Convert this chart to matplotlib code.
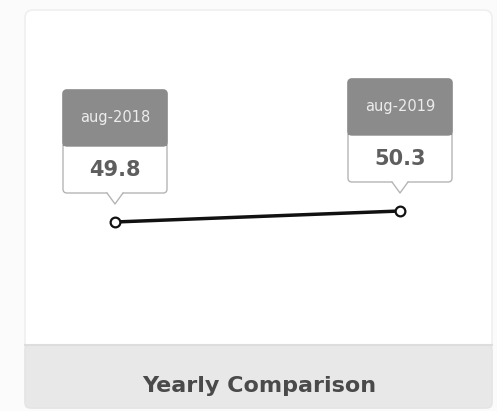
import matplotlib.pyplot as plt
import matplotlib.patches as mpatches
import matplotlib.transforms as mtransforms
from matplotlib.lines import Line2D

# data
periods = ['aug-2018', 'aug-2019']
values = [49.8, 50.3]
footer_title = 'Yearly Comparison'

W, H = 497, 411
fig = plt.figure(figsize=(W / 100, H / 100), dpi=100)
fig.patch.set_facecolor('#fbfbfb')

# background layer in pixel coords (y measured from top)
bg = fig.add_axes([0, 0, 1, 1])
bg.set_xlim(0, W)
bg.set_ylim(H, 0)
bg.axis('off')

card = mpatches.FancyBboxPatch((25, 10), 467, 398, boxstyle='round,pad=0,rounding_size=8',
                               facecolor='white', edgecolor='#efefef', lw=1.2)
bg.add_patch(card)
footer = mpatches.FancyBboxPatch((25, 345), 467, 63, boxstyle='round,pad=0,rounding_size=5',
                                 facecolor='#e8e8e8', edgecolor='#e4e4e4', lw=1)
bg.add_patch(footer)
bg.plot([25, 492], [345, 345], color='#dddddd', lw=1.5)
bg.text(259, 386, footer_title, ha='center', va='center', fontsize=16,
        fontweight='bold', color='#4a4a4a', family=['DejaVu Sans'])

# data axes: 0 -> x=115px, 1 -> x=400px ; 22 px per unit vertically
ax = fig.add_axes([25 / W, (H - 345) / H, 467 / W, 335 / H])
ax.patch.set_alpha(0)
ax.set_xlim(-90 / 285, 377 / 285)
ax.set_ylim(values[0] - 123 / 22, values[0] + 212 / 22)
ax.axis('off')

xs = list(range(len(values)))
ax.plot(xs, values, color='#111111', lw=2.5, marker='o', markersize=7,
        markerfacecolor='white', markeredgecolor='#111111', markeredgewidth=1.6, zorder=3)

# callout boxes, drawn in pixel offsets above each point
for x, v, lab in zip(xs, values, periods):
    px, py = ax.transData.transform((x, v))
    tr = mtransforms.Affine2D().translate(px, py)
    body = mpatches.FancyBboxPatch((-52, 29), 104, 103, boxstyle='round,pad=0,rounding_size=4',
                                   facecolor='white', edgecolor='#b5b5b5', lw=1,
                                   transform=tr, zorder=4)
    fig.add_artist(body)
    head = mpatches.FancyBboxPatch((-52, 76), 104, 56, boxstyle='round,pad=0,rounding_size=4',
                                   facecolor='#8b8b8b', edgecolor='#8b8b8b', lw=1,
                                   transform=tr, zorder=5)
    fig.add_artist(head)
    head_sq = mpatches.Rectangle((-52, 76), 104, 10, facecolor='#8b8b8b', edgecolor='none',
                                 transform=tr, zorder=5)
    fig.add_artist(head_sq)
    tri = mpatches.Polygon([(-8, 30), (0, 18), (8, 30)], closed=True, facecolor='white',
                           edgecolor='none', transform=tr, zorder=5)
    fig.add_artist(tri)
    fig.add_artist(Line2D([-8, 0, 8], [29, 18, 29], color='#b5b5b5', lw=1, transform=tr, zorder=6))
    fig.text(0, 104, lab, ha='center', va='center', fontsize=10.5, color='#ececec',
             family=['DejaVu Sans'], transform=tr, zorder=7)
    fig.text(0, 52, f'{v:.1f}', ha='center', va='center', fontsize=15, color='#5e5e5e',
             fontweight='bold', family=['DejaVu Sans'], transform=tr, zorder=7)

fig.savefig('out.png', dpi=100)
